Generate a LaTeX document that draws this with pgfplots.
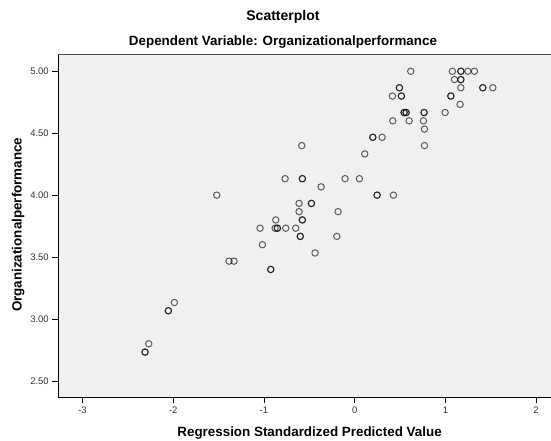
\documentclass[border=0pt]{standalone}
\usepackage{fontspec}
\setmainfont{Liberation Sans}
\usepackage{pgfplots}
\pgfplotsset{compat=1.18}
\definecolor{bgc}{HTML}{F0F0F0}
\definecolor{tickc}{HTML}{333333}
\begin{document}
\begin{tikzpicture}[x=1pt,y=1pt]
\path[use as bounding box] (0,0) rectangle (551,440);
\begin{axis}[
  at={(58.3pt,42.7pt)}, anchor=south west,
  scale only axis, width=492.7pt, height=343pt,
  xmin=-3.267, xmax=2.164, ymin=2.368, ymax=5.137,
  xtick={-3,-2,-1,0,1,2}, ytick={2.5,3,3.5,4,4.5,5},
  separate axis lines,
  axis x line*=bottom, axis y line*=left,
  axis line style={-, black, line width=1pt},
  axis background/.style={fill=bgc},
  tick align=outside, major tick length=6pt,
  tick style={black, line width=0.8pt},
  tick label style={font=\fontsize{9.5}{10}\selectfont, text=tickc},
  /pgf/number format/assume math mode=true,
  yticklabel style={/pgf/number format/.cd, fixed, fixed zerofill, precision=2},
  xticklabel style={/pgf/number format/.cd, fixed},
  clip=false,
]
\addplot[only marks, mark=o, mark size=3.2pt,
  mark options={draw=black, draw opacity=0.62, line width=1pt}]
  table {
x y
-2.311 2.733
-2.311 2.733
-2.27 2.80
-2.054 3.067
-2.054 3.067
-1.988 3.133
-1.385 3.467
-1.33 3.467
-0.925 3.40
-0.925 3.40
-1.017 3.60
-1.043 3.733
-0.877 3.733
-0.852 3.733
-0.852 3.733
-0.76 3.733
-0.65 3.733
-0.60 3.667
-0.60 3.667
-0.197 3.667
-0.437 3.533
-0.87 3.80
-0.577 3.80
-0.577 3.80
-0.613 3.867
-0.183 3.867
-0.613 3.933
-0.477 3.933
-0.477 3.933
-1.52 4.00
0.247 4.00
0.247 4.00
0.427 4.00
-0.37 4.067
-0.767 4.133
-0.577 4.133
-0.577 4.133
-0.106 4.133
0.052 4.133
0.111 4.333
-0.583 4.40
0.769 4.40
0.20 4.467
0.20 4.467
0.302 4.467
0.769 4.533
0.42 4.60
0.60 4.60
0.758 4.60
0.545 4.667
0.545 4.667
0.567 4.667
0.567 4.667
0.765 4.667
0.765 4.667
0.997 4.667
1.162 4.733
0.416 4.80
0.515 4.80
0.515 4.80
1.06 4.80
1.06 4.80
0.493 4.867
0.493 4.867
1.17 4.867
1.412 4.867
1.412 4.867
1.523 4.867
1.10 4.933
1.17 4.933
1.17 4.933
0.618 5.00
1.077 5.00
1.17 5.00
1.17 5.00
1.247 5.00
1.32 5.00
};
\draw[black!70, line width=0.8pt] (rel axis cs:0,1) -- (rel axis cs:1,1);
\node[anchor=base, font=\bfseries\fontsize{14}{16}\selectfont] at (rel axis cs:0.456,1.098) {Scatterplot};
\node[anchor=base, font=\bfseries\fontsize{13.4}{15}\selectfont] at (rel axis cs:0.456,1.025) {Dependent Variable: Organizationalperformance};
\node[anchor=base, font=\bfseries\fontsize{13.4}{15}\selectfont] at (rel axis cs:0.51,-0.115) {Regression Standardized Predicted Value};
\node[rotate=90, anchor=center, font=\bfseries\fontsize{13.4}{15}\selectfont] at (rel axis cs:-0.0812,0.503) {Organizationalperformance};
\end{axis}
\end{tikzpicture}
\end{document}
